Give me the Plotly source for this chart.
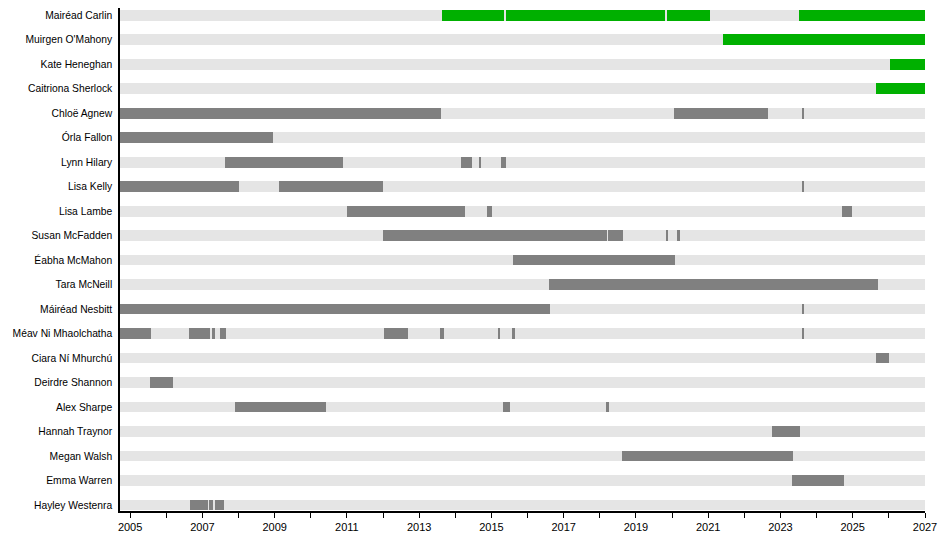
import plotly.graph_objects as go

members = [
    "Mairéad Carlin", "Muirgen O'Mahony", "Kate Heneghan", "Caitriona Sherlock",
    "Chloë Agnew", "Órla Fallon", "Lynn Hilary", "Lisa Kelly", "Lisa Lambe",
    "Susan McFadden", "Éabha McMahon", "Tara McNeill", "Máiréad Nesbitt",
    "Méav Ni Mhaolchatha", "Ciara Ní Mhurchú", "Deirdre Shannon", "Alex Sharpe",
    "Hannah Traynor", "Megan Walsh", "Emma Warren", "Hayley Westenra",
]

timeline_start = 2004.72
timeline_end = 2027.0

# Current members (green)
green_members = ["Mairéad Carlin", "Mairéad Carlin", "Mairéad Carlin", "Mairéad Carlin",
                 "Muirgen O'Mahony", "Kate Heneghan", "Caitriona Sherlock"]
green_starts = [2013.63, 2015.39, 2019.86, 2023.50, 2021.40, 2026.04, 2025.65]
green_ends = [2015.34, 2019.81, 2021.04, 2027.00, 2027.00, 2027.00, 2027.00]

# Former members (grey)
grey_members = [
    "Chloë Agnew", "Chloë Agnew", "Chloë Agnew",
    "Órla Fallon",
    "Lynn Hilary", "Lynn Hilary", "Lynn Hilary", "Lynn Hilary",
    "Lisa Kelly", "Lisa Kelly", "Lisa Kelly",
    "Lisa Lambe", "Lisa Lambe", "Lisa Lambe",
    "Susan McFadden", "Susan McFadden", "Susan McFadden", "Susan McFadden",
    "Éabha McMahon",
    "Tara McNeill",
    "Máiréad Nesbitt", "Máiréad Nesbitt",
    "Méav Ni Mhaolchatha", "Méav Ni Mhaolchatha", "Méav Ni Mhaolchatha",
    "Méav Ni Mhaolchatha", "Méav Ni Mhaolchatha", "Méav Ni Mhaolchatha",
    "Méav Ni Mhaolchatha", "Méav Ni Mhaolchatha", "Méav Ni Mhaolchatha",
    "Ciara Ní Mhurchú",
    "Deirdre Shannon",
    "Alex Sharpe", "Alex Sharpe", "Alex Sharpe",
    "Hannah Traynor",
    "Megan Walsh",
    "Emma Warren",
    "Hayley Westenra", "Hayley Westenra", "Hayley Westenra",
]
grey_starts = [
    2004.72, 2020.05, 2023.61,
    2004.72,
    2007.63, 2014.16, 2014.66, 2015.26,
    2004.72, 2009.12, 2023.61,
    2011.00, 2014.87, 2024.71,
    2011.99, 2018.23, 2019.82, 2020.14,
    2015.60,
    2016.59,
    2004.72, 2023.61,
    2004.72, 2006.63, 2007.27, 2007.49, 2012.03, 2013.58, 2015.19, 2015.57, 2023.61,
    2025.65,
    2005.55,
    2007.90, 2015.32, 2018.16,
    2022.76,
    2018.61,
    2023.31,
    2006.66, 2007.19, 2007.35,
]
grey_ends = [
    2013.60, 2022.65, 2023.65,
    2008.96,
    2010.88, 2014.46, 2014.70, 2015.40,
    2008.02, 2011.99, 2023.65,
    2014.27, 2015.01, 2024.97,
    2018.20, 2018.63, 2019.88, 2020.21,
    2020.07,
    2025.69,
    2016.62, 2023.65,
    2005.58, 2007.21, 2007.35, 2007.66, 2012.69, 2013.69, 2015.25, 2015.64, 2023.65,
    2025.99,
    2006.19,
    2010.42, 2015.51, 2018.25,
    2023.53,
    2023.34,
    2024.75,
    2007.16, 2007.30, 2007.60,
]

idx = {n: i for i, n in enumerate(members)}
BAR_W = 0.44

fig = go.Figure()
fig.add_trace(go.Bar(
    orientation="h",
    y=list(range(len(members))),
    base=[timeline_start] * len(members),
    x=[timeline_end - timeline_start] * len(members),
    width=BAR_W,
    marker=dict(color="#e5e5e5", line=dict(width=0)),
    hoverinfo="skip", showlegend=False,
))
fig.add_trace(go.Bar(
    orientation="h",
    y=[idx[n] for n in grey_members],
    base=grey_starts,
    x=[e - s for s, e in zip(grey_starts, grey_ends)],
    width=BAR_W,
    marker=dict(color="#808080", line=dict(width=0)),
    showlegend=False,
))
fig.add_trace(go.Bar(
    orientation="h",
    y=[idx[n] for n in green_members],
    base=green_starts,
    x=[e - s for s, e in zip(green_starts, green_ends)],
    width=BAR_W,
    marker=dict(color="#00b000", line=dict(width=0)),
    showlegend=False,
))

fig.update_layout(
    width=942, height=542,
    barmode="overlay",
    plot_bgcolor="white", paper_bgcolor="white",
    margin=dict(l=112, r=25, t=0, b=39, autoexpand=False),
    font=dict(family="Liberation Sans, Arial, sans-serif", size=11, color="black"),
    bargap=0,
)
fig.update_xaxes(
    range=[timeline_start, timeline_end],
    tickmode="linear", tick0=2005, dtick=2,
    ticks="outside", ticklen=5, tickcolor="black",
    minor=dict(dtick=1, tick0=2005, ticks="outside", ticklen=5, tickcolor="black", showgrid=False),
    showline=True, linecolor="black", linewidth=1.5,
    showgrid=False, zeroline=False, automargin=False,
    tickformat="d", tickfont=dict(size=11),
)
fig.update_yaxes(
    range=[20.245, -0.294],
    tickmode="array", tickvals=list(range(len(members))), ticktext=members,
    ticks="outside", ticklen=4, tickcolor="rgba(0,0,0,0)",
    showline=True, linecolor="black", linewidth=1.5,
    showgrid=False, zeroline=False, automargin=False,
    tickfont=dict(size=10.3),
)

fig.write_html("out.html")
